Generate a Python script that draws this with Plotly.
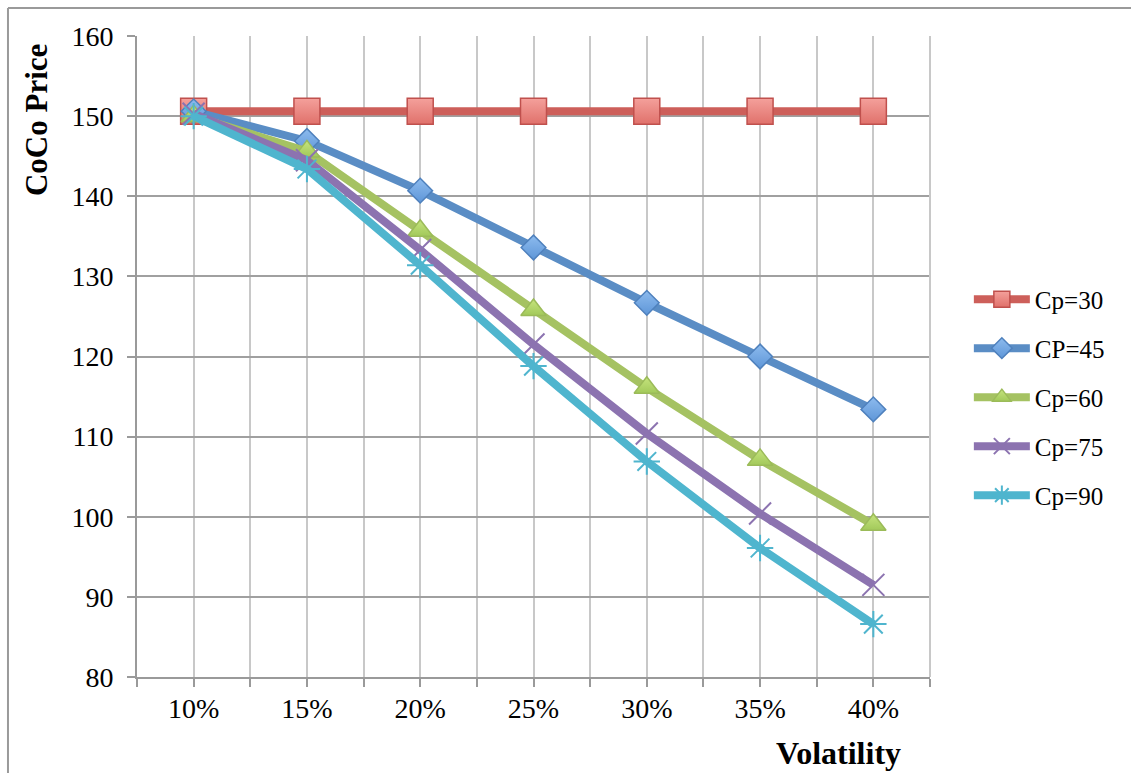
import plotly.graph_objects as go

# Volatility levels (%) on the x axis
volatility = [10, 15, 20, 25, 30, 35, 40]
volatility_labels = ["10%", "15%", "20%", "25%", "30%", "35%", "40%"]

# CoCo prices for each conversion price
cp30 = [150.6, 150.6, 150.6, 150.6, 150.6, 150.6, 150.6]
cp45 = [150.6, 146.9, 140.7, 133.6, 126.7, 120.0, 113.4]
cp60 = [150.0, 145.6, 135.7, 125.8, 116.1, 107.1, 99.0]
cp75 = [150.3, 144.5, 133.3, 121.5, 110.4, 100.4, 91.5]
cp90 = [150.0, 143.4, 131.4, 118.8, 106.9, 96.1, 86.6]

series_names = ["Cp=30", "CP=45", "Cp=60", "Cp=75", "Cp=90"]
series_values = [cp30, cp45, cp60, cp75, cp90]

FONT = "Liberation Serif"

styles = [
    dict(line="#CD5F5A", symbol="square", size=26, fill="#F4A09B", fill2="#E0716B", edge="#C0504D"),
    dict(line="#5A8DC5", symbol="diamond", size=19, fill="#8DBBEE", fill2="#5E96D8", edge="#4F81BD"),
    dict(line="#A5C262", symbol="triangle-up", size=22, fill="#C6E47E", fill2="#A2C95A", edge="#9BBB59"),
    dict(line="#8C73B0", symbol="x-thin-open", size=22, fill="#8C73B0", fill2=None, edge="#8064A2"),
    dict(line="#4FB5CE", symbol="asterisk-open", size=22, fill="#4FB5CE", fill2=None, edge="#4BACC6"),
]

fig = go.Figure()
for i, (name, vals, st) in enumerate(zip(series_names, series_values, styles)):
    marker = dict(symbol=st["symbol"], size=st["size"], color=st["fill"],
                  line=dict(color=st["edge"], width=1.5 if st["fill2"] else 2))
    if st["fill2"]:
        marker["gradient"] = dict(type="vertical", color=st["fill2"])
    fig.add_trace(go.Scatter(
        x=volatility, y=vals, name=name, mode="lines+markers",
        line=dict(color=st["line"], width=8),
        marker=marker, legendgroup=f"g{i}",
    ))

fig.update_layout(
    width=1131, height=773,
    margin=dict(l=137, r=201, t=36, b=96),
    paper_bgcolor="white", plot_bgcolor="white",
    font=dict(family=FONT, size=25, color="black"),
    showlegend=True,
    legend=dict(x=1.049, y=0.625, xanchor="left", yanchor="top",
                font=dict(family=FONT, size=25), tracegroupgap=13.5,
                traceorder="grouped", bgcolor="rgba(0,0,0,0)",
                itemwidth=56),
    xaxis=dict(
        range=[7.5, 42.5], tickvals=volatility, ticktext=volatility_labels,
        showgrid=True, gridcolor="#C8C8C8", gridwidth=1.5,
        showline=True, linecolor="#9A9A9A", linewidth=2,
        ticks="outside", ticklen=8, tickcolor="#9A9A9A", tickwidth=1.5,
        ticklabelstandoff=-3, zeroline=False,
        minor=dict(tick0=7.5, dtick=5, showgrid=True, gridcolor="#C8C8C8",
                   gridwidth=1.5, ticks="outside", ticklen=8,
                   tickcolor="#9A9A9A", tickwidth=1.5),
        tickfont=dict(family=FONT, size=28),
    ),
    yaxis=dict(
        range=[80, 160], dtick=10, tick0=80,
        showgrid=True, gridcolor="#A0A0A0", gridwidth=1.5,
        showline=True, linecolor="#9A9A9A", linewidth=2,
        ticks="outside", ticklen=8, tickcolor="#9A9A9A", tickwidth=1.5,
        ticklabelstandoff=8, zeroline=False,
        tickfont=dict(family=FONT, size=28),
    ),
    annotations=[
        dict(text="<b>CoCo Price</b>", textangle=-90, xref="paper", yref="paper",
             x=-0.126, y=0.869, xanchor="center", yanchor="middle", showarrow=False,
             font=dict(family=FONT, size=31, color="black")),
        dict(text="<b>Volatility</b>", xref="paper", yref="paper",
             x=0.884, y=-0.119, xanchor="center", yanchor="middle", showarrow=False,
             font=dict(family=FONT, size=32, color="black")),
    ],
    shapes=[
        # chart frame
        dict(type="line", xref="paper", yref="paper", x0=-0.1627, x1=1.3,
             y0=1.0437, y1=1.0437, line=dict(color="#9A9A9A", width=2)),
        dict(type="line", xref="paper", yref="paper", x0=-0.1627, x1=-0.1627,
             y0=1.0437, y1=-0.2, line=dict(color="#9A9A9A", width=2)),
        # right edge of the plot area
        dict(type="line", xref="paper", yref="paper", x0=1, x1=1,
             y0=0, y1=1, line=dict(color="#C8C8C8", width=2)),
    ],
)

fig.write_html("out.html")
